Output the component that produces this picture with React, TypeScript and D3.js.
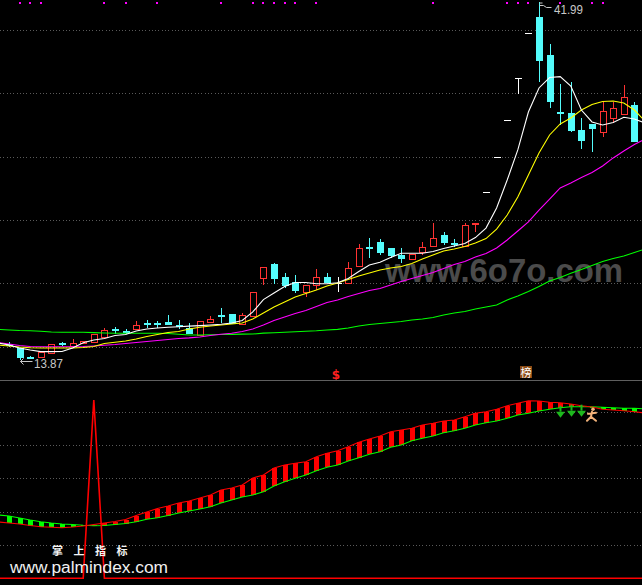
import React from 'react';
import * as d3 from 'd3';

const W = 642;
const H = 585;

// ---- candles (index 0..60) ----
const opens = [15.03,14.72,13.97,14.01,14.27,15.07,14.82,15.09,15.15,15.59,16.20,16.06,16.21,16.67,16.67,16.77,16.54,16.30,15.72,16.77,17.28,17.38,16.59,17.26,20.24,21.32,20.30,19.93,19.12,19.67,20.28,19.80,19.85,21.19,22.67,23.06,22.56,22.03,21.74,22.29,22.77,23.61,22.98,22.77,24.50,27.04,29.74,32.71,35.98,39.58,40.83,37.81,33.29,33.21,31.89,32.37,31.76,32.82,33.13,33.87,29.92];
const highs = [15.21,14.72,14.07,14.41,15.05,15.21,15.41,15.25,15.80,16.30,16.38,16.17,16.83,16.91,16.83,17.30,16.91,16.67,16.85,17.22,17.83,17.38,17.46,19.09,21.06,21.43,20.64,20.46,19.67,20.93,20.64,20.32,21.46,22.90,23.35,23.27,22.56,22.56,22.09,23.04,24.58,23.82,23.30,24.54,24.58,27.04,29.74,32.71,35.98,39.58,41.99,38.68,35.52,35.70,32.82,32.37,34.13,34.13,35.44,34.13,29.92];
const lows = [14.86,13.87,13.89,14.01,14.23,14.94,14.82,15.07,15.15,15.59,15.86,15.86,16.21,16.33,16.38,16.62,16.28,15.91,15.72,16.69,16.77,16.65,16.59,17.26,19.67,19.80,19.51,19.14,18.75,19.27,19.88,19.22,19.85,21.19,21.90,22.11,21.85,21.51,21.64,22.03,22.77,22.88,22.74,22.77,23.87,27.04,29.74,32.71,34.84,39.58,35.78,33.73,32.37,31.84,30.50,30.26,31.37,32.47,33.13,31.05,28.58];
const closes = [15.00,14.01,13.95,14.41,15.01,15.04,15.12,15.23,15.80,16.12,16.13,16.02,16.51,16.62,16.62,16.62,16.49,15.91,16.85,16.99,17.22,16.65,17.30,19.09,21.06,20.24,19.67,19.27,19.67,20.28,19.88,19.80,20.99,22.56,22.61,22.29,22.03,21.77,22.09,22.64,23.35,23.08,22.93,24.40,24.58,27.04,29.74,32.71,35.98,39.58,37.42,34.21,33.24,31.89,31.11,32.03,33.39,33.61,34.47,31.05,28.58];

// ---- moving averages (index -1..60) ----
const ma5 = [15.09,14.93,14.70,14.54,14.41,14.41,14.42,14.70,15.12,15.33,15.45,15.68,15.76,16.04,16.20,16.28,16.34,16.38,16.42,16.46,16.51,16.57,16.67,16.87,17.54,18.52,19.04,19.55,19.87,19.87,19.77,19.77,19.84,20.18,20.73,21.24,21.46,21.84,22.17,22.17,22.17,22.31,22.55,22.74,22.94,23.41,24.16,25.74,27.95,30.32,33.31,35.21,36.03,36.10,35.36,33.47,32.53,32.29,32.49,32.90,32.76,32.45];
const ma10 = [14.93,14.86,14.78,14.72,14.70,14.70,14.70,14.70,14.74,14.82,15.05,15.15,15.25,15.41,15.61,15.76,15.92,16.00,16.20,16.34,16.43,16.51,16.59,16.67,16.99,17.46,17.93,18.33,18.72,19.00,19.27,19.59,19.83,20.10,20.38,20.61,20.85,21.01,21.13,21.36,21.72,22.03,22.35,22.51,22.70,22.98,23.33,24.08,25.19,26.61,28.35,30.08,31.50,32.37,32.84,33.47,33.91,34.14,34.18,34.02,33.47,32.60];
const ma20 = [15.13,15.01,14.90,14.82,14.80,14.80,14.80,14.80,14.82,14.86,14.91,14.97,15.05,15.13,15.21,15.29,15.37,15.45,15.50,15.57,15.68,15.78,15.86,16.00,16.20,16.51,16.87,17.14,17.42,17.66,17.97,18.29,18.49,18.76,19.00,19.24,19.39,19.67,19.94,20.18,20.42,20.65,20.97,21.29,21.52,21.88,22.15,22.59,23.22,23.93,24.64,25.58,26.45,27.32,27.71,28.15,28.54,29.05,29.69,30.24,30.75,31.18];
const ma60 = [16.17,16.12,16.08,16.06,16.02,15.96,15.94,15.94,15.94,15.91,15.88,15.86,15.86,15.86,15.86,15.86,15.84,15.78,15.72,15.72,15.74,15.76,15.77,15.79,15.80,15.87,15.90,15.94,15.98,16.02,16.06,16.12,16.17,16.28,16.43,16.55,16.63,16.71,16.79,16.91,16.99,17.10,17.30,17.46,17.58,17.78,17.93,18.09,18.49,18.80,19.16,19.55,19.98,20.26,20.59,20.89,21.21,21.52,21.76,21.96,22.23,22.51];

// ---- lower indicator (index -1..60) ----
const fastLine = [1.689,1.659,1.629,1.584,1.548,1.530,1.518,1.539,1.569,1.614,1.659,1.704,1.764,1.884,1.989,2.094,2.169,2.259,2.319,2.409,2.499,2.649,2.709,2.799,3.009,3.099,3.309,3.399,3.450,3.498,3.648,3.750,3.828,3.948,4.080,4.179,4.269,4.398,4.449,4.500,4.599,4.650,4.719,4.749,4.848,4.950,4.998,5.070,5.178,5.250,5.328,5.319,5.280,5.268,5.229,5.178,5.139,5.070,5.049,5.028,4.998,4.959];
const slowLine = [1.899,1.869,1.809,1.749,1.698,1.659,1.629,1.614,1.590,1.578,1.584,1.614,1.644,1.698,1.770,1.818,1.884,1.959,2.019,2.079,2.148,2.259,2.349,2.439,2.499,2.598,2.769,2.898,3.000,3.099,3.228,3.330,3.399,3.519,3.618,3.720,3.798,3.930,3.999,4.128,4.200,4.269,4.368,4.428,4.500,4.599,4.668,4.719,4.800,4.899,4.950,5.019,5.070,5.118,5.148,5.148,5.145,5.130,5.118,5.100,5.100,5.079];
const spike = [0,0,0,0,0,0,0,0,0,5.35,0,0,0,0,0,0,0,0,0,0,0,0,0,0,0,0,0,0,0,0,0,0,0,0,0,0,0,0,0,0,0,0,0,0,0,0,0,0,0,0,0,0,0,0,0,0,0,0,0,0,0,0];

const priceGrid = [14.8, 19.8, 24.8, 29.8, 34.8, 39.8];
const indGrid = [1, 2, 3, 4, 5];
const topDots = [1,2,3,9,11,14,20,23,24,25,26,27,29,40,47,48,49,52,55,56];
const dollarSignals = [31];
const bangSignals = [49];
const downArrows = [52, 53, 54];
const runnerSignals = [55];

const RED = '#ff3232';
const CYAN = '#54fcfc';

export default function App() {
  const x = d3.scaleLinear().domain([0, 60]).range([9, 645]);
  const y = d3.scaleLinear().domain([13.87, 41.99]).range([358.5, 2]);
  const yB = d3.scaleLinear().domain([0, 6]).range([578.3, 378.3]);

  const lineFrom = (arr: number[], sc: (v: number) => number) =>
    d3.line<number>().x((_, i) => x(i - 1)).y((d) => sc(d))(arr) || '';

  const hiIdx = d3.maxIndex(highs);
  const loIdx = d3.minIndex(lows);
  const hx = Math.round(x(hiIdx)) + 0.5;
  const hy = y(highs[hiIdx]);
  const lx = Math.round(x(loIdx)) + 0.5;
  const ly = y(lows[loIdx]);

  return (
    <svg width={W} height={H} style={{ position: 'absolute', left: 0, top: 0, background: '#000' }}>
      <rect x={0} y={0} width={W} height={H} fill="#000" />
      {/* grids */}
      {priceGrid.map((g, i) => (
        <line key={'pg' + i} x1={0} x2={W} y1={Math.round(y(g)) + 0.5} y2={Math.round(y(g)) + 0.5}
          stroke="#5a5a5a" strokeDasharray="1 2.3" shapeRendering="crispEdges" />
      ))}
      {indGrid.map((g, i) => (
        <line key={'ig' + i} x1={0} x2={W} y1={Math.round(yB(g)) + 0.5} y2={Math.round(yB(g)) + 0.5}
          stroke="#5a5a5a" strokeDasharray="1 2.3" shapeRendering="crispEdges" />
      ))}
      {/* watermark */}
      <text x={385} y={282} fontFamily="'Liberation Sans', Arial, sans-serif" fontWeight="bold" fontSize={33}
        fill="#4b4b4b" textLength={238} lengthAdjust="spacingAndGlyphs">www.6o7o.com</text>

      {/* candles */}
      {opens.map((o, i) => {
        const c = closes[i], h = highs[i], l = lows[i];
        const cx = Math.round(x(i)) + 0.5;
        const yo = Math.round(y(o)), yc = Math.round(y(c)), yh = Math.round(y(h)), yl = Math.round(y(l));
        if (c > o) {
          const top = yc, bot = Math.max(yo, yc + 1);
          return (
            <g key={'c' + i} shapeRendering="crispEdges">
              {yh < top && <line x1={cx} x2={cx} y1={yh} y2={top} stroke={RED} />}
              {yl > bot && <line x1={cx} x2={cx} y1={bot} y2={yl} stroke={RED} />}
              <rect x={cx - 3} y={top + 0.5} width={6} height={bot - top} fill="none" stroke={RED} />
            </g>
          );
        } else if (c < o) {
          const hgt = Math.max(yc - yo, 1);
          return (
            <g key={'c' + i} shapeRendering="crispEdges">
              <line x1={cx} x2={cx} y1={yh} y2={yl + 1} stroke={CYAN} />
              <rect x={cx - 3.5} y={yo} width={7} height={hgt + 1} fill={CYAN} />
            </g>
          );
        }
        return (
          <g key={'c' + i} shapeRendering="crispEdges">
            {yl > yh && <line x1={cx} x2={cx} y1={yh} y2={yl + 1} stroke="#fff" />}
            <line x1={cx - 3.5} x2={cx + 3.5} y1={yc + 0.5} y2={yc + 0.5} stroke="#fff" />
          </g>
        );
      })}

      {/* moving averages */}
      <path d={lineFrom(ma60, y)} fill="none" stroke="#00ff00" strokeWidth={1.1} />
      <path d={lineFrom(ma20, y)} fill="none" stroke="#ff00ff" strokeWidth={1.1} />
      <path d={lineFrom(ma10, y)} fill="none" stroke="#ffff00" strokeWidth={1.1} />
      <path d={lineFrom(ma5, y)} fill="none" stroke="#ffffff" strokeWidth={1.1} />

      {/* top dots */}
      {topDots.map((d) => (
        <rect key={'td' + d} x={Math.round(x(d)) - 1} y={2} width={2} height={2} fill="#ff00ff" />
      ))}

      {/* high marker */}
      <path d={`M${hx},${hy + 1}L${hx + 3},${hy + 1}M${hx},${hy + 3.5}L${hx + 4},${hy + 3.5}L${hx + 7},${hy + 5.5}L${hx + 12},${hy + 5.5}`}
        fill="none" stroke="#c8c8c8" strokeWidth={1} />
      <text x={hx + 14.5} y={hy + 12} fontFamily="'Liberation Sans', Arial, sans-serif" fontSize={13}
        fill="#c8c8c8" textLength={29} lengthAdjust="spacingAndGlyphs">{highs[hiIdx].toFixed(2)}</text>
      {/* low marker */}
      <path d={`M${lx + 3},${ly}L${lx},${ly + 3}L${lx + 3},${ly + 6}M${lx},${ly + 3}L${lx + 12},${ly + 3}`}
        fill="none" stroke="#c8c8c8" strokeWidth={1} />
      <text x={lx + 13.5} y={ly + 9.5} fontFamily="'Liberation Sans', Arial, sans-serif" fontSize={13}
        fill="#c8c8c8" textLength={29} lengthAdjust="spacingAndGlyphs">{lows[loIdx].toFixed(2)}</text>

      {/* signal icons at bottom of price panel */}
      {dollarSignals.map((d) => (
        <text key={'ds' + d} x={Math.round(x(d)) - 2} y={379} textAnchor="middle" fontFamily="'DejaVu Sans', sans-serif"
          fontWeight="bold" fontSize={12} fill="#ff2020">$</text>
      ))}
      {bangSignals.map((d) => (
        <g key={'bs' + d}>
          <rect x={Math.round(x(d)) - 8} y={366} width={12} height={12} fill="#8a4a14" />
          <text x={Math.round(x(d)) - 2} y={376.5} textAnchor="middle" fontFamily="'Noto Sans CJK SC', sans-serif"
            fontSize={11} fill="#fff">榜</text>
        </g>
      ))}

      {/* separator */}
      <line x1={0} x2={W} y1={380.5} y2={380.5} stroke="#5f5f5f" shapeRendering="crispEdges" />

      {/* lower indicator bars */}
      {opens.map((_, i) => {
        const f = fastLine[i + 1], s = slowLine[i + 1];
        const cx = Math.round(x(i));
        const y1 = yB(Math.max(f, s)), y2 = yB(Math.min(f, s));
        return (
          <rect key={'b' + i} x={cx - 2} y={y1} width={5} height={Math.max(y2 - y1, 1)}
            fill={f >= s ? '#ff0000' : '#00ff00'} shapeRendering="crispEdges" />
        );
      })}
      <path d={lineFrom(slowLine, yB)} fill="none" stroke="#00ff00" strokeWidth={1.1} />
      <path d={lineFrom(fastLine, yB)} fill="none" stroke="#ff0000" strokeWidth={1.1} />
      <path d={lineFrom(spike, yB)} fill="none" stroke="#ff0000" strokeWidth={1.6} />

      {/* down arrows */}
      {downArrows.map((d) => {
        const cx = Math.round(x(d)) + 0.5;
        const t = yB(slowLine[d + 1]) - 2;
        return (
          <g key={'da' + d}>
            <rect x={cx - 1} y={t} width={2} height={6} fill="#1db81d" />
            <path d={`M${cx - 4.5},${t + 6}L${cx + 4.5},${t + 6}L${cx},${t + 12}Z`} fill="#1db81d" />
          </g>
        );
      })}
      {/* runner */}
      {runnerSignals.map((d) => {
        const cx = Math.round(x(d));
        const t = yB(slowLine[d + 1]);
        return (
          <g key={'rn' + d} stroke="#f2b27a" strokeWidth={2} fill="none" strokeLinecap="round">
            <circle cx={cx + 1} cy={t + 2.5} r={1.8} fill="#f2b27a" stroke="none" />
            <path d={`M${cx},${t + 5}L${cx - 1},${t + 10}M${cx - 4},${t + 7}L${cx + 4},${t + 6}M${cx - 1},${t + 10}L${cx - 5},${t + 14}M${cx - 1},${t + 10}L${cx + 4},${t + 14}`} />
          </g>
        );
      })}

      {/* bottom watermark */}
      <text x={52} y={554.5} fontFamily="'Noto Sans CJK SC', sans-serif" fontWeight="bold" fontSize={11}
        fill="#f4f4f4" letterSpacing={10.5}>掌上指标</text>
      <text x={10} y={573} fontFamily="'Liberation Sans', Arial, sans-serif" fontSize={16}
        fill="#f0f0f0" textLength={158} lengthAdjust="spacingAndGlyphs">www.palmindex.com</text>
    </svg>
  );
}
